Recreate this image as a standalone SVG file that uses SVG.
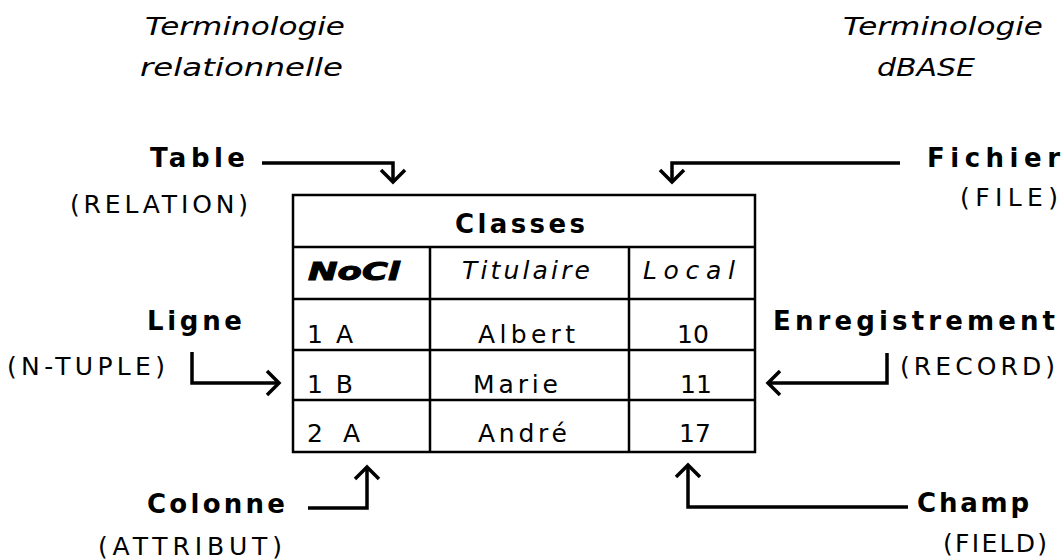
<svg xmlns="http://www.w3.org/2000/svg" width="1063" height="560" viewBox="0 0 1063 560">
<style>
.b{font-family:"DejaVu Sans","Liberation Sans",sans-serif;font-weight:bold;font-size:26px;fill:#000}
.r{font-family:"DejaVu Sans","Liberation Sans",sans-serif;font-size:25px;fill:#000}
.i{font-family:"DejaVu Sans","Liberation Sans",sans-serif;font-style:italic;font-size:25px;fill:#000}
.nc{font-family:"DejaVu Sans","Liberation Sans",sans-serif;font-style:italic;font-weight:bold;font-size:25px;fill:#000;stroke:#000;stroke-width:1}
.m{text-anchor:middle}
.grid{fill:none;stroke:#000;stroke-width:2.5}
.conn{fill:none;stroke:#000;stroke-width:3.5;marker-end:url(#chev)}
</style>
<defs>
<marker id="chev" markerUnits="userSpaceOnUse" viewBox="-16 -16 20 32" refX="0" refY="0" markerWidth="20" markerHeight="32" orient="auto" overflow="visible">
<path d="M -12 -12 L 0 0 L -12 12" fill="none" stroke="#000" stroke-width="3.5" stroke-linejoin="miter"/>
</marker>
</defs>
<rect width="1063" height="560" fill="#fff"/>
<g id="titles">
<text class="i" x="145" y="35" textLength="200" lengthAdjust="spacingAndGlyphs">Terminologie</text>
<text class="i" x="140" y="76" textLength="203" lengthAdjust="spacingAndGlyphs">relationnelle</text>
<text class="i" x="843" y="35" textLength="200" lengthAdjust="spacingAndGlyphs">Terminologie</text>
<text class="i" x="877" y="76" textLength="98" lengthAdjust="spacingAndGlyphs">dBASE</text>
</g>
<g id="table-node">
<rect class="grid" x="293" y="195" width="462" height="257"/>
<path class="grid" d="M293 247H755M293 299H755M293 350H755M293 400H755M430 247V452M629 247V452"/>
<text class="b" x="455" y="233" textLength="130" lengthAdjust="spacing">Classes</text>
<text class="nc" x="308" y="280" textLength="92" lengthAdjust="spacingAndGlyphs">NoCl</text>
<text class="i" x="462" y="279" textLength="128" lengthAdjust="spacing">Titulaire</text>
<text class="i" x="643" y="279" textLength="92" lengthAdjust="spacing">Local</text>
<text class="r" x="307" y="343" textLength="46" lengthAdjust="spacing">1 A</text>
<text class="r" x="478" y="343" textLength="97" lengthAdjust="spacing">Albert</text>
<text class="r m" x="693" y="343">10</text>
<text class="r" x="307" y="393" textLength="46" lengthAdjust="spacing">1 B</text>
<text class="r" x="473" y="393" textLength="85" lengthAdjust="spacing">Marie</text>
<text class="r m" x="696" y="393">11</text>
<text class="r" x="307" y="442" textLength="53" lengthAdjust="spacing">2 A</text>
<text class="r" x="478" y="442" textLength="89" lengthAdjust="spacing">André</text>
<text class="r m" x="695" y="442">17</text>
</g>
<g id="label-table">
<text class="b" x="150" y="167" textLength="95" lengthAdjust="spacing">Table</text>
<text class="r" x="70" y="213" textLength="178" lengthAdjust="spacing">(RELATION)</text>
</g>
<g id="label-ligne">
<text class="b" x="147" y="330" textLength="95" lengthAdjust="spacing">Ligne</text>
<text class="r" x="7" y="375" textLength="158" lengthAdjust="spacing">(N-TUPLE)</text>
</g>
<g id="label-colonne">
<text class="b" x="147" y="513" textLength="138" lengthAdjust="spacing">Colonne</text>
<text class="r" x="98" y="555" textLength="184" lengthAdjust="spacing">(ATTRIBUT)</text>
</g>
<g id="label-fichier">
<text class="b" x="927" y="167" textLength="133" lengthAdjust="spacing">Fichier</text>
<text class="r" x="960" y="206" textLength="98" lengthAdjust="spacing">(FILE)</text>
</g>
<g id="label-enregistrement">
<text class="b" x="773" y="330" textLength="282" lengthAdjust="spacing">Enregistrement</text>
<text class="r" x="900" y="375" textLength="155" lengthAdjust="spacing">(RECORD)</text>
</g>
<g id="label-champ">
<text class="b" x="917" y="512" textLength="112" lengthAdjust="spacing">Champ</text>
<text class="r" x="943" y="552" textLength="104" lengthAdjust="spacing">(FIELD)</text>
</g>
<g id="connectors">
<path class="conn" d="M262 163H393V182"/>
<path class="conn" d="M900 163H672V182"/>
<path class="conn" d="M192 352V383H279"/>
<path class="conn" d="M887 353V383H768"/>
<path class="conn" d="M308 508H367V467"/>
<path class="conn" d="M908 507H688V465"/>
</g>
</svg>
